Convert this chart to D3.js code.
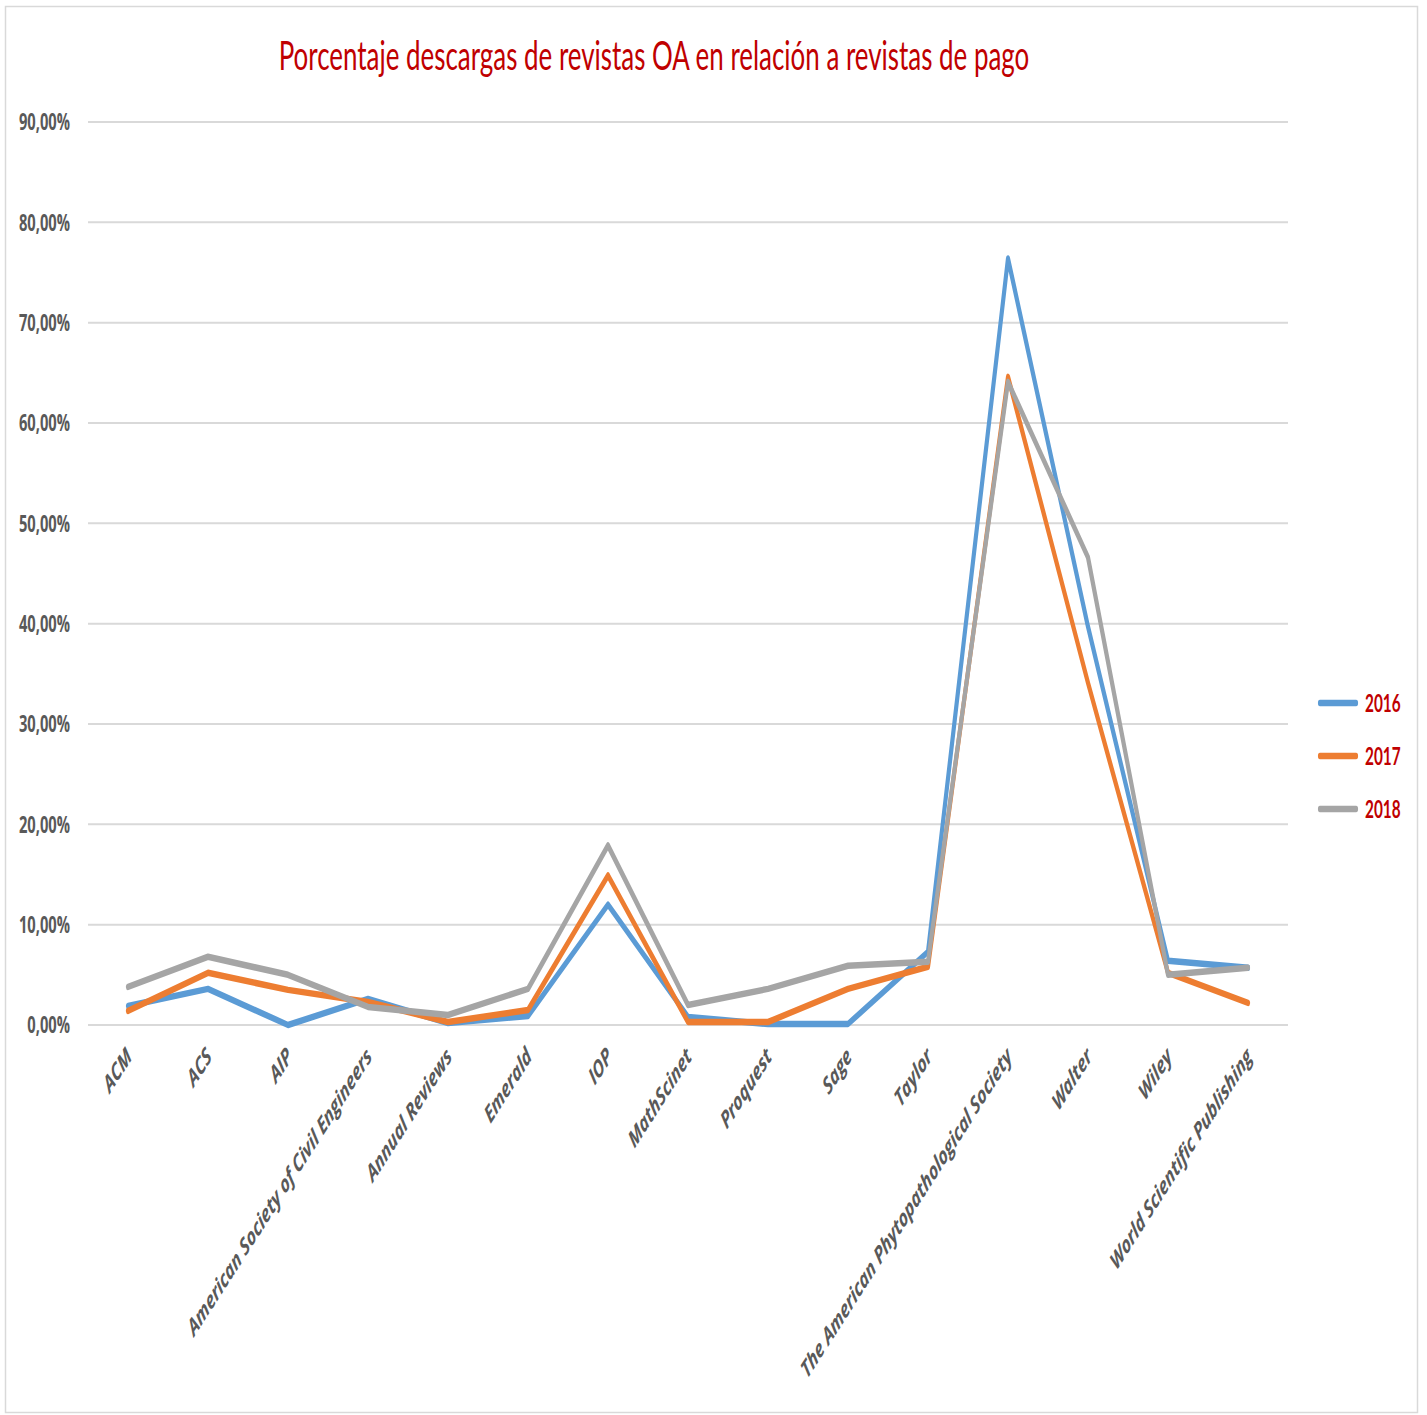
<!DOCTYPE html>
<html>
<head>
<meta charset="utf-8">
<script src="https://cdn.jsdelivr.net/npm/d3@7"></script>
<style>
  body { margin: 0; background: #fff; }
  svg { display: block; }
</style>
</head>
<body>
<div id="chart"></div>
<script>
const categories = ['ACM', 'ACS', 'AIP', 'American Society of Civil Engineers', 'Annual Reviews',
  'Emerald', 'IOP', 'MathScinet', 'Proquest', 'Sage', 'Taylor',
  'The American Phytopathological Society', 'Walter', 'Wiley', 'World Scientific Publishing'];
const years = ['2016', '2017', '2018'];
const v2016 = [1.9, 3.6, 0.0, 2.6, 0.2, 0.9, 12.0, 0.8, 0.1, 0.1, 7.3, 76.4, 39.7, 6.4, 5.7];
const v2017 = [1.4, 5.2, 3.5, 2.3, 0.3, 1.5, 14.9, 0.3, 0.3, 3.6, 5.8, 64.6, 34.1, 5.2, 2.2];
const v2018 = [3.8, 6.8, 5.0, 1.8, 1.0, 3.6, 17.9, 2.0, 3.6, 5.9, 6.3, 64.1, 46.6, 5.0, 5.7];
const yTicks = [0, 10, 20, 30, 40, 50, 60, 70, 80, 90];
const colors = ['#5B9BD5', '#ED7D31', '#A5A5A5'];

const W = 1427, H = 1415;
// the picture is squeezed sideways, so draw wide and scale x down
const SX = 0.64;

const svg = d3.select('#chart').append('svg')
  .attr('width', W).attr('height', H);

svg.append('rect')
  .attr('x', 5.5).attr('y', 6.5).attr('width', 1412).attr('height', 1406)
  .attr('fill', '#fff').attr('stroke', '#D9D9D9').attr('stroke-width', 1.5);

const g = svg.append('g').attr('transform', `scale(${SX},1)`);

const x = d3.scaleBand().domain(categories).range([88 / SX, 1288 / SX]);
const cx = d => x(d) + x.bandwidth() / 2;
const y = d3.scaleLinear().domain([0, 90]).range([1025, 122]);

const font = 'Lato, "Open Sans", "Liberation Sans", sans-serif';
const labelFont = '"Open Sans", Lato, "Liberation Sans", sans-serif';

// title
g.append('text')
  .attr('x', 654 / SX).attr('y', 70)
  .attr('text-anchor', 'middle')
  .attr('fill', '#C00000')
  .style('font-family', font).style('font-size', '40.5px')
  .text('Porcentaje descargas de revistas OA en relación a revistas de pago');

// gridlines
g.append('g')
  .selectAll('line').data(yTicks).enter().append('line')
  .attr('x1', 88 / SX).attr('x2', 1288 / SX)
  .attr('y1', d => y(d)).attr('y2', d => y(d))
  .attr('stroke', '#D9D9D9').attr('stroke-width', 2);

// y labels
g.append('g')
  .selectAll('text').data(yTicks).enter().append('text')
  .attr('x', 70 / SX).attr('y', d => y(d)).attr('dy', '0.36em')
  .attr('text-anchor', 'end')
  .attr('fill', '#595959')
  .style('font-family', labelFont).style('font-size', '23px').style('font-weight', 'bold')
  .text(d => d.toFixed(2).replace('.', ',') + '%');

// x labels
g.append('g')
  .selectAll('text').data(categories).enter().append('text')
  .attr('transform', d => `translate(${cx(d) + 1 / SX},1052) rotate(-45)`)
  .attr('dy', '0.35em')
  .attr('text-anchor', 'end')
  .attr('fill', '#595959')
  .style('font-family', labelFont).style('font-size', '24px')
  .style('font-weight', 'bold').style('font-style', 'italic')
  .text(d => d);

// lines
const series = [v2016, v2017, v2018];
const line = d3.line()
  .x((d, i) => cx(categories[i]))
  .y(d => y(d));

g.append('g')
  .selectAll('path').data(series).enter().append('path')
  .attr('d', line)
  .attr('fill', 'none')
  .attr('stroke', (d, i) => colors[i])
  .attr('stroke-width', 6.5)
  .attr('stroke-linejoin', 'round')
  .attr('stroke-linecap', 'round');

// legend
const legendY = [703, 756, 809];
const lg = g.append('g').selectAll('g').data(years).enter().append('g');
lg.append('line')
  .attr('x1', 1320 / SX).attr('x2', 1356 / SX)
  .attr('y1', (d, i) => legendY[i]).attr('y2', (d, i) => legendY[i])
  .attr('stroke', (d, i) => colors[i])
  .attr('stroke-width', 6.5)
  .attr('stroke-linecap', 'round');
lg.append('text')
  .attr('x', 1365 / SX).attr('y', (d, i) => legendY[i]).attr('dy', '0.36em')
  .attr('fill', '#C00000')
  .style('font-family', font).style('font-size', '24px').style('font-weight', 'bold')
  .text(d => d);
</script>
</body>
</html>
